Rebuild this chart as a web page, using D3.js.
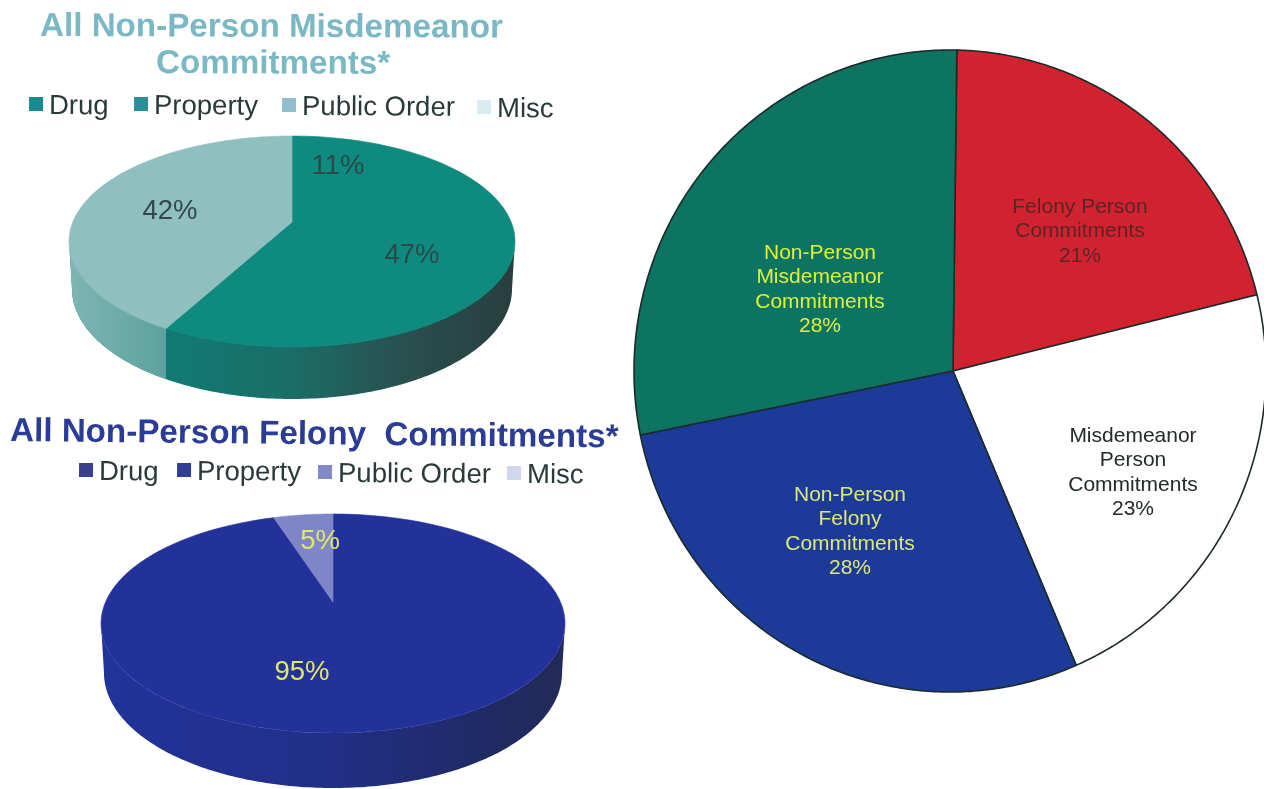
<!DOCTYPE html>
<html><head><meta charset="utf-8">
<script src="https://cdn.jsdelivr.net/npm/d3@7"></script>
<style>html,body{margin:0;padding:0;background:#fff;overflow:hidden}svg{display:block;filter:blur(0.5px)}text{font-family:"Liberation Sans",Arial,sans-serif}</style>
</head><body><svg id="c" width="1264" height="789"></svg>
<script>
const legendLabels=["Drug","Property","Public Order","Misc"];
const misdCats=["Property","Public Order","Drug"];
const misdValues=[58,42];
const misdLabels=["11%","47%","42%"];
const felCats=["Property","Public Order"];
const felValues=[95,5];
const felLabels=["95%","5%"];
const mainCats=["Felony Person","Misdemeanor Person","Non-Person Felony","Non-Person Misdemeanor"];
const mainValues=[20.9,22.6,28.1,28.4];
const mainLabels=[
 ["Felony Person","Commitments","21%"],
 ["Misdemeanor","Person","Commitments","23%"],
 ["Non-Person","Felony","Commitments","28%"],
 ["Non-Person","Misdemeanor","Commitments","28%"]];
const mainColors=["#d1232f","#ffffff","#1c3a98","#0c7460"];
const mainText=["#5a2428","#222a2a","#dfe67a","#dff03c"];

const svg=d3.select("#c");
const defs=svg.append("defs");
function grad(id,stops,x1,x2){
 const g=defs.append("linearGradient").attr("id",id).attr("gradientUnits","userSpaceOnUse").attr("x1",x1).attr("x2",x2).attr("y1",0).attr("y2",0);
 stops.forEach(s=>g.append("stop").attr("offset",s[0]).attr("stop-color",s[1]));
}
grad("sideTeal",[[0,"#117a72"],[0.35,"#1a6e68"],[0.7,"#2a4e4e"],[1,"#283e3e"]],165,515);
grad("sideTealL",[[0,"#7fb5b5"],[1,"#5da29e"]],68,165);
grad("sideBlue",[[0,"#22339a"],[0.5,"#212f86"],[0.85,"#1f2a62"],[1,"#222a58"]],101,566);

function pie3d(o){
 const g=svg.append("g");
 const a=(o.bot-o.cy)/(o.cy-o.top);
 const k=(a-1)/(a+1), b=(o.cy-o.top)*(1+k), c=o.rx*Math.sqrt(1-k*k);
 const proj=t=>{const u=Math.sin(t),v=Math.cos(t),d=1+k*v;return [o.cx+c*u/d,o.cy-b*v/d];};
 const arcs=d3.pie().sort(null).value(d=>d).startAngle(0).endAngle(2*Math.PI)(o.values);
 const line=d3.line();
 const ell=(cy,rx,ry,n=180)=>d3.range(n+1).map(i=>{const t=Math.PI*i/n;return [o.cx+rx*Math.cos(t),cy+ry*Math.sin(t)];});
 const topFront=ell(o.ey,o.rx,o.ery);
 const botFront=ell(o.sy,o.srx,o.sry);
 const sidePath=line(topFront.concat(botFront.slice().reverse()))+"Z";
 const clipId=o.id+"c";
 defs.append("clipPath").attr("id",clipId).append("path").attr("d",sidePath);
 g.append("rect").attr("clip-path",`url(#${clipId})`).attr("x",o.cx-o.rx-2).attr("y",o.top).attr("width",2*o.rx+4).attr("height",o.h).attr("fill",o.sideFill);
 if(o.leftEdge!=null) g.append("rect").attr("clip-path",`url(#${clipId})`).attr("x",o.cx-o.rx-2).attr("y",o.top).attr("width",o.leftEdge-(o.cx-o.rx-2)).attr("height",o.h).attr("fill",o.sideFillL);
 arcs.forEach((d,i)=>{
  const n=120,pts=d3.range(n+1).map(j=>proj(d.startAngle+(d.endAngle-d.startAngle)*j/n));
  g.append("path").attr("d",line([[o.cx,o.cy],...pts])+"Z").attr("fill",o.colors[i]).attr("stroke",o.colors[i]).attr("stroke-width",.6);
 });
 o.labels.forEach(l=>g.append("text").attr("x",l.x).attr("y",l.y).attr("text-anchor","middle").attr("font-size",o.labelSize).attr("fill",l.c).text(l.t));
}

pie3d({id:"m",cx:292,cy:222,top:136,bot:347,ey:241,ery:105.5,rx:223,sy:289,srx:220,sry:110,h:270,
 values:misdValues,colors:["#0f8a7e","#8fc0bf"],sideFill:"url(#sideTeal)",sideFillL:"url(#sideTealL)",leftEdge:166,
 labelSize:27.5,labels:[{t:misdLabels[0],x:338,y:174,c:"#2a4a48"},{t:misdLabels[1],x:412,y:263,c:"#2a4a48"},{t:misdLabels[2],x:170,y:219,c:"#34474a"}]});
pie3d({id:"f",cx:333,cy:602,top:514,bot:733,ey:623.5,ery:109.5,rx:232,sy:673,srx:229,sry:115,h:280,
 values:felValues,colors:["#22329a","#7f86c8"],sideFill:"url(#sideBlue)",leftEdge:null,
 labelSize:27.5,labels:[{t:felLabels[1],x:320,y:549,c:"#e0e66a"},{t:felLabels[0],x:302,y:680,c:"#e0e66a"}]});

// Main pie: slightly elliptical outline, hub a little right of the outline's centre
const main={ax:953,ay:371,ex:950,ey:371,rx:316,ry:321};
function mainPoint(t){
 const sx=Math.sin(t),sy=-Math.cos(t),ox=main.ax-main.ex,oy=main.ay-main.ey;
 const A=sx*sx/(main.rx*main.rx)+sy*sy/(main.ry*main.ry);
 const B=2*(ox*sx/(main.rx*main.rx)+oy*sy/(main.ry*main.ry));
 const C=ox*ox/(main.rx*main.rx)+oy*oy/(main.ry*main.ry)-1;
 const s=(-B+Math.sqrt(B*B-4*A*C))/(2*A);
 return [main.ax+s*sx,main.ay+s*sy];
}
const mainStart=0.012;
d3.pie().sort(null).value(d=>d).startAngle(mainStart).endAngle(2*Math.PI+mainStart)(mainValues).forEach((d,i)=>{
 const n=160,pts=d3.range(n+1).map(j=>mainPoint(d.startAngle+(d.endAngle-d.startAngle)*j/n));
 svg.append("path").attr("d",d3.line()([[main.ax,main.ay],...pts])+"Z").attr("fill",mainColors[i]).attr("stroke","#1c2a2a").attr("stroke-width",1.6).attr("stroke-linejoin","round");
});
const mainPos=[[1080,213],[1133,442],[850,501],[820,259]];
mainLabels.forEach((ls,i)=>{
 const t=svg.append("text").attr("text-anchor","middle").attr("font-size",21).attr("fill",mainText[i]);
 ls.forEach((s,j)=>t.append("tspan").attr("x",mainPos[i][0]).attr("y",mainPos[i][1]+j*24.3).text(s));
});

function title(lines,color,size,rot){
 lines.forEach(l=>svg.append("text").attr("transform",`translate(${l.x},${l.y}) rotate(${rot})`).attr("font-size",size).attr("font-weight","bold").attr("fill",color).style("white-space","pre").text(l.t));
}
title([{t:"All Non-Person Misdemeanor",x:40,y:36},{t:"Commitments*",x:156,y:73}],"#7bb8c6",33.2,0.2);
title([{t:"All Non-Person Felony  Commitments*",x:10,y:441}],"#2a3c96",33.2,0.6);

function legend(items,colors,rot){
 items.forEach((it,i)=>{
  const g=svg.append("g").attr("transform",`translate(${it.x},${it.y}) rotate(${rot})`);
  g.append("rect").attr("x",-it.sw).attr("y",-17).attr("width",14).attr("height",14).attr("fill",colors[i]);
  g.append("text").attr("x",0).attr("y",0).attr("font-size",27.5).attr("fill","#2a3a3a").text(legendLabels[i]);
 });
}
legend([{x:49,y:114,sw:20},{x:154,y:114,sw:20},{x:302,y:115,sw:20},{x:497,y:117,sw:20}],["#1a8a8e","#2a8f98","#8fbfcc","#d8ecf2"],0.3);
legend([{x:99,y:480,sw:20},{x:197,y:480,sw:20},{x:338,y:482,sw:20},{x:527,y:483,sw:20}],["#3a4090","#2f3f96","#8088c8","#d0d6ee"],0.3);
</script></body></html>
